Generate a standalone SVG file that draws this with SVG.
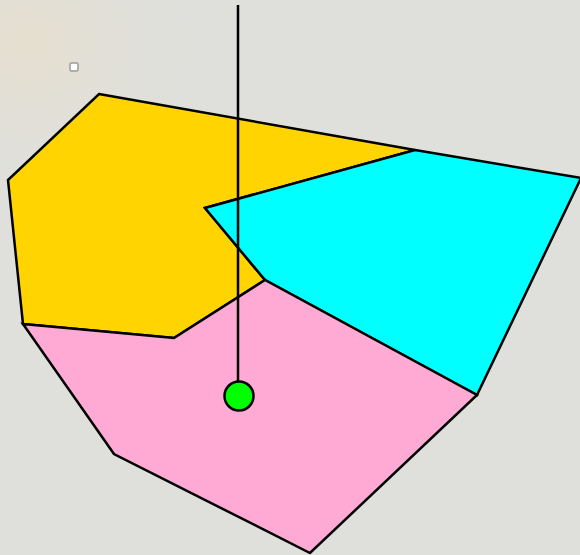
<svg xmlns="http://www.w3.org/2000/svg" width="580" height="555" viewBox="0 0 580 555">
<defs>
<radialGradient id="bg1" cx="0.05" cy="0.08" r="0.35">
<stop offset="0" stop-color="#e6dfcf"/>
<stop offset="1" stop-color="#dfe0dc" stop-opacity="0"/>
</radialGradient>
<style>
.reg{stroke:#000;stroke-width:2.5;stroke-linejoin:miter}
.edge{stroke:#000;stroke-width:2.5;fill:none}
</style>
</defs>
<rect width="580" height="555" fill="#dfe0dc"/>
<rect width="580" height="555" fill="url(#bg1)"/>
<g id="marker-square"><rect x="70" y="63" width="8" height="8" rx="1.5" fill="#fff" stroke="#9a9a9a" stroke-width="1.5"/></g>
<g id="yellow"><polygon class="reg" fill="#ffd400" points="99,94 415,150 205,208 265,280 174,338 23,324 8,180"/></g>
<g id="cyan"><polygon class="reg" fill="#00ffff" points="415,150 581,178 477,395 265,280 205,208"/></g>
<g id="pink"><polygon class="reg" fill="#ffaad4" points="23,324 174,338 265,280 477,395 310,553 114,454"/></g>
<g id="connectors"><line class="edge" x1="238" y1="5" x2="238" y2="382"/></g>
<g id="point"><circle cx="239" cy="396" r="14.5" fill="#00ff00" stroke="#000" stroke-width="2.5"/></g>
</svg>
